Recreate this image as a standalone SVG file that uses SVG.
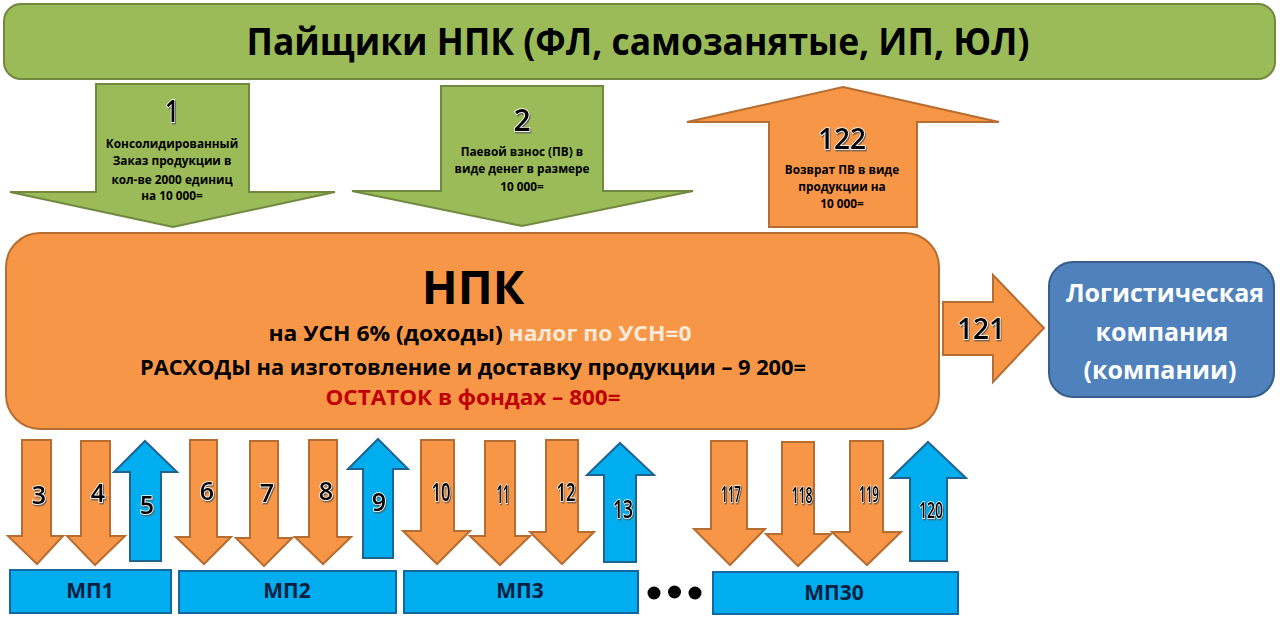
<svg xmlns="http://www.w3.org/2000/svg" width="1280" height="620" viewBox="0 0 1280 620">
<style>
text{font-family:"Open Sans","Noto Sans","Liberation Sans",sans-serif;font-weight:700;text-anchor:middle;fill:#000}
.g{fill:#9BBB59;stroke:#71893F;stroke-width:2}
.o{fill:#F79646;stroke:#B66D31;stroke-width:2}
.b{fill:#00AEEF;stroke:#1F6391;stroke-width:2}
.bar{fill:#00AEEF;stroke:#15689F;stroke-width:2}
.n{font-weight:600;fill:#000;stroke:#fff;stroke-width:1.6;paint-order:stroke;filter:url(#sh)}
.s{font-size:25px}
.t{font-size:22px}
.d{font-size:11.800px}
.m{font-size:21px;fill:#08203f}
.w{font-size:25px;fill:#fff}
</style>
<defs><filter id="sh" x="-30%" y="-30%" width="160%" height="160%"><feDropShadow dx="1" dy="1.5" stdDeviation="0.6" flood-color="#555" flood-opacity=".8"/></filter></defs>
<rect width="1280" height="620" fill="#fff"/>
<g id="pay"><rect x="4" y="4" width="1271" height="75" rx="17" class="g"/><text x="638" y="55" font-size="37" textLength="783" lengthAdjust="spacingAndGlyphs">Пайщики НПК (ФЛ, самозанятые, ИП, ЮЛ)</text></g>
<g id="npk"><rect x="6" y="233" width="933" height="196" rx="34" class="o"/>
<text x="473" y="304" font-size="47">НПК</text>
<text x="480" y="341" class="t" textLength="423" lengthAdjust="spacingAndGlyphs">на УСН 6% (доходы) <tspan fill="#FDE9D9">налог по УСН=0</tspan></text>
<text x="473" y="375" class="t" textLength="666" lengthAdjust="spacingAndGlyphs">РАСХОДЫ на изготовление и доставку продукции – 9 200=</text>
<text x="473" y="405" class="t" style="fill:#C00000" textLength="295" lengthAdjust="spacingAndGlyphs">ОСТАТОК в фондах – 800=</text></g>
<g id="log"><rect x="1049" y="262" width="225" height="135" rx="24" fill="#4F81BD" stroke="#385D8A" stroke-width="2"/>
<text x="1165" y="302" class="w">Логистическая</text><text x="1162" y="341" class="w">компания</text><text x="1160" y="379" class="w">(компании)</text></g>
<g id="mp1"><rect x="10" y="570" width="161" height="43" class="bar"/><text x="90" y="598" class="m">МП1</text></g>
<g id="mp2"><rect x="179" y="571" width="217" height="42" class="bar"/><text x="287" y="598" class="m">МП2</text></g>
<g id="mp3"><rect x="404" y="571" width="234" height="42" class="bar"/><text x="520" y="598" class="m">МП3</text></g>
<g id="mp30"><rect x="713" y="572" width="245" height="42" class="bar"/><text x="834" y="600" class="m">МП30</text></g>
<g id="dots"><circle cx="654" cy="593" r="6.500"/><circle cx="674.500" cy="592" r="6.500"/><circle cx="695" cy="593" r="6.500"/></g>
<g id="connectors">
<g id="a1"><polygon class="g" points="96,84 249,84 249,192 335,192 173,227 10,192 96,192"/>
<text x="172" y="122" font-size="30" class="n" textLength="14" lengthAdjust="spacingAndGlyphs">1</text>
<text x="172" y="148" class="d">Консолидированный</text><text x="172" y="165" class="d">Заказ продукции в</text><text x="172" y="184" class="d">кол-ве 2000 единиц</text><text x="172" y="200" class="d">на 10 000=</text></g>
<g id="a2"><polygon class="g" points="441,86 603,86 603,191 693,191 522,226 352,191 441,191"/>
<text x="522" y="131" font-size="30" class="n">2</text>
<text x="522" y="156" class="d">Паевой взнос (ПВ) в</text><text x="522" y="173" class="d">виде денег в размере</text><text x="522" y="191" class="d">10 000=</text></g>
<g id="a122"><polygon class="o" points="843,87 999,122 917,122 917,227 769,227 769,122 687,122"/>
<text x="842" y="149" font-size="29" class="n" textLength="48" lengthAdjust="spacingAndGlyphs">122</text>
<text x="842" y="174" class="d">Возврат ПВ в виде</text><text x="842" y="191" class="d">продукции на</text><text x="842" y="208" class="d">10 000=</text></g>
<g id="a121"><polygon class="o" points="943,302 993,302 993,275 1044,328 993,382 993,355 943,355"/><text x="981" y="339" font-size="29" class="n" textLength="48" lengthAdjust="spacingAndGlyphs">121</text></g>
<g id="a3"><polygon class="o" points="22,440 51,440 51,536 63,536 37,564 8,536 22,536"/><text x="39" y="504" class="n s">3</text></g>
<g id="a4"><polygon class="o" points="81,441 110,441 110,536 125,536 95,565 67,536 81,536"/><text x="98" y="502" class="n s">4</text></g>
<g id="a5"><polygon class="b" points="145,441 177,472 161,472 161,561 130,561 130,472 114,472"/><text x="147" y="514" class="n s">5</text></g>
<g id="a6"><polygon class="o" points="190,440 217,440 217,537 231,537 204,564 176,537 190,537"/><text x="207" y="500" class="n s">6</text></g>
<g id="a7"><polygon class="o" points="250,441 278,441 278,538 292,538 264,566 236,538 250,538"/><text x="267" y="502" class="n s">7</text></g>
<g id="a8"><polygon class="o" points="309,440 337,440 337,537 351,537 323,564 295,537 309,537"/><text x="326" y="500" class="n s">8</text></g>
<g id="a9"><polygon class="b" points="378,439 408,469 393,469 393,558 363,558 363,469 348,469"/><text x="379" y="511" class="n s">9</text></g>
<g id="a10"><polygon class="o" points="421,440 454,440 454,531 470,531 437,564 403,531 421,531"/><text x="441" y="501" class="n s" textLength="19" lengthAdjust="spacingAndGlyphs">10</text></g>
<g id="a11"><polygon class="o" points="485,441 515,441 515,536 530,536 500,565 470,536 485,536"/><text x="503" y="503" class="n s" textLength="13" lengthAdjust="spacingAndGlyphs">11</text></g>
<g id="a12"><polygon class="o" points="546,440 578,440 578,532 594,532 562,564 530,532 546,532"/><text x="566" y="501" class="n s" textLength="19" lengthAdjust="spacingAndGlyphs">12</text></g>
<g id="a13"><polygon class="b" points="620,443 654,475 636,475 636,562 604,562 604,475 587,475"/><text x="623" y="518" class="n s" textLength="20" lengthAdjust="spacingAndGlyphs">13</text></g>
<g id="a117"><polygon class="o" points="711,441 747,441 747,529 765,529 730,565 694,529 711,529"/><text x="731" y="502" class="n" font-size="21" textLength="20" lengthAdjust="spacingAndGlyphs">117</text></g>
<g id="a118"><polygon class="o" points="782,442 814,442 814,534 831,534 798,566 766,534 782,534"/><text x="802" y="503" class="n" font-size="21" textLength="21" lengthAdjust="spacingAndGlyphs">118</text></g>
<g id="a119"><polygon class="o" points="850,441 883,441 883,532 901,532 867,565 832,532 850,532"/><text x="869" y="502" class="n" font-size="21" textLength="20" lengthAdjust="spacingAndGlyphs">119</text></g>
<g id="a120"><polygon class="b" points="928,442 966,478 947,478 947,561 910,561 910,478 891,478"/><text x="931" y="518" class="n" font-size="21" textLength="24" lengthAdjust="spacingAndGlyphs">120</text></g>
</g>
</svg>
